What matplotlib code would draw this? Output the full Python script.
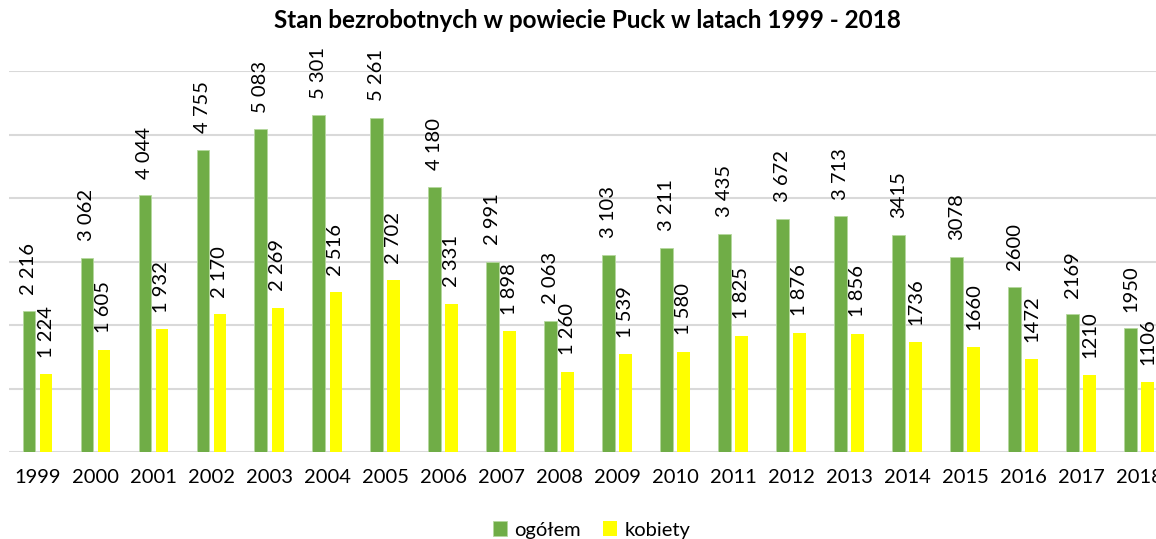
import numpy as np
from matplotlib import pyplot as plt

years = [str(y) for y in range(1999, 2019)]
ogolem = [2216, 3062, 4044, 4755, 5083, 5301, 5261, 4180, 2991, 2063,
          3103, 3211, 3435, 3672, 3713, 3415, 3078, 2600, 2169, 1950]
kobiety = [1224, 1605, 1932, 2170, 2269, 2516, 2702, 2331, 1898, 1260,
           1539, 1580, 1825, 1876, 1856, 1736, 1660, 1472, 1210, 1106]
# od 2014 liczby w zrodle sa bez spacji tysiecy
grouped_until = 2014

def fmt(v, year):
    if int(year) < grouped_until and v >= 1000:
        return '{} {:03d}'.format(v // 1000, v % 1000)
    return str(v)

plt.rcParams['font.family'] = ['Lato', 'DejaVu Sans']

fig = plt.figure(figsize=(11.56, 5.39), dpi=100)
ax = fig.add_axes([8.5 / 1156, 87 / 539, 1159.5 / 1156, 381 / 539])

x = np.arange(len(years))
w = 0.22
off = 0.147
green = '#70AD47'
yellow = '#FFFF00'

b1 = ax.bar(x - off, ogolem, w, color=green, edgecolor='#b5d89e', linewidth=0.6, label='ogółem', zorder=3)
b2 = ax.bar(x + off, kobiety, w, color=yellow, label='kobiety', zorder=3)

for i in range(len(years)):
    ax.annotate(fmt(ogolem[i], years[i]), (x[i] - off, ogolem[i]), xytext=(0, 12),
                textcoords='offset points', rotation=90, ha='center', va='bottom',
                fontsize=14.5, color='#000000')
    ax.annotate(fmt(kobiety[i], years[i]), (x[i] + off, kobiety[i]), xytext=(0, 12),
                textcoords='offset points', rotation=90, ha='center', va='bottom',
                fontsize=14.5, color='#000000')

ax.set_xlim(-0.5, len(years) - 0.5)
ax.set_ylim(0, 6000)
ax.set_yticks(np.arange(0, 6001, 1000))
ax.yaxis.grid(True, color='#d9d9d9', linewidth=1.5, zorder=0)
ax.set_axisbelow(True)
ax.tick_params(axis='y', left=False, labelleft=False)
ax.set_xticks(x)
ax.set_xticklabels(years, fontsize=14.5)
ax.tick_params(axis='x', length=0, pad=12.5)
for s in ax.spines.values():
    s.set_visible(False)

fig.text(0.508, 1 - 20 / 539, 'Stan bezrobotnych w powiecie Puck w latach 1999 - 2018',
         ha='center', va='center', fontsize=17.5, fontweight='bold')

fig.legend(handles=[b1, b2], loc='center', bbox_to_anchor=(0.512, 9 / 539), ncol=2,
           frameon=False, fontsize=14.5, handlelength=0.7, handleheight=0.7,
           handletextpad=0.35, columnspacing=1.1)

fig.savefig('out.png', dpi=100)
